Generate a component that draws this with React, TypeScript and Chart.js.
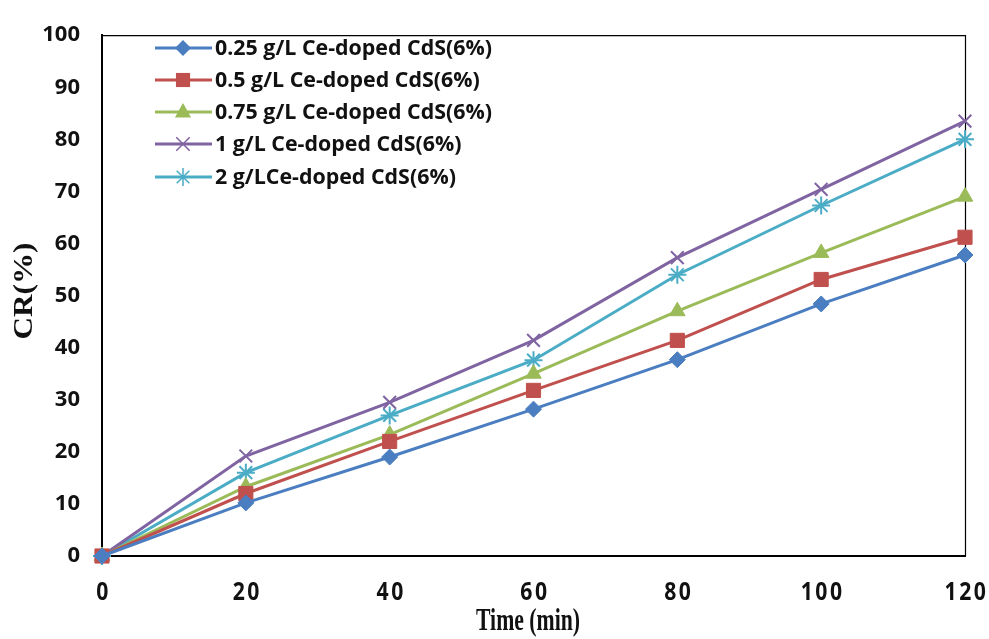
import React, { useEffect, useRef } from "react";
import { Chart, registerables } from "chart.js";

Chart.register(...registerables);

const times = [0, 20, 40, 60, 80, 100, 120];
const s025 = [0, 10.2, 19, 28.2, 37.7, 48.4, 57.8];
const s05 = [0, 12, 22, 31.8, 41.4, 53.1, 61.2];
const s075 = [0, 13.3, 23.3, 35, 47, 58.2, 69];
const s1 = [0, 19.2, 29.5, 41.4, 57.3, 70.4, 83.5];
const s2 = [0, 16, 27, 37.6, 54, 67.3, 80];

const labels = [
  "0.25 g/L Ce-doped CdS(6%)",
  "0.5 g/L Ce-doped CdS(6%)",
  "0.75 g/L Ce-doped CdS(6%)",
  "1 g/L Ce-doped CdS(6%)",
  "2 g/LCe-doped CdS(6%)",
];
const xTitle = "Time (min)";
const yTitle = "CR(%)";
const colors = ["#4A7EC0", "#C0504D", "#9BBB59", "#8064A2", "#4BACC6"];
const styles: any[] = ["rectRot", "rect", "triangle", "crossRot", "star"];
const radii = [8, 10, 9, 9, 9];

function marker(ctx: CanvasRenderingContext2D, style: string, x: number, y: number, r: number, color: string) {
  ctx.save();
  ctx.fillStyle = color;
  ctx.strokeStyle = color;
  ctx.lineWidth = 1.5;
  ctx.beginPath();
  if (style === "rectRot") {
    ctx.moveTo(x, y - r); ctx.lineTo(x + r, y); ctx.lineTo(x, y + r); ctx.lineTo(x - r, y); ctx.closePath();
    ctx.fill();
  } else if (style === "rect") {
    const s = r * Math.SQRT1_2;
    ctx.rect(x - s, y - s, 2 * s, 2 * s);
    ctx.fill();
  } else if (style === "triangle") {
    ctx.moveTo(x, y - r); ctx.lineTo(x + r * 0.9, y + r * 0.6); ctx.lineTo(x - r * 0.9, y + r * 0.6); ctx.closePath();
    ctx.fill();
  } else if (style === "crossRot") {
    const s = r * 0.75;
    ctx.moveTo(x - s, y - s); ctx.lineTo(x + s, y + s); ctx.moveTo(x + s, y - s); ctx.lineTo(x - s, y + s);
    ctx.stroke();
  } else {
    const s = r * 0.7;
    ctx.moveTo(x - s, y - s); ctx.lineTo(x + s, y + s); ctx.moveTo(x + s, y - s); ctx.lineTo(x - s, y + s);
    ctx.moveTo(x, y - r); ctx.lineTo(x, y + r);
    ctx.stroke();
  }
  ctx.restore();
}

const legendPlugin = {
  id: "insideLegend",
  afterDatasetsDraw(chart: any) {
    const ctx = chart.ctx;
    ctx.save();
    const x0 = 155;
    const ys = [48, 80, 112, 144, 177];
    chart.data.datasets.forEach((ds: any, i: number) => {
      const y = ys[i];
      ctx.strokeStyle = ds.borderColor;
      ctx.lineWidth = 3;
      ctx.beginPath();
      ctx.moveTo(x0, y);
      ctx.lineTo(x0 + 57, y);
      ctx.stroke();
      marker(ctx, styles[i], x0 + 28, y, radii[i], colors[i]);
      ctx.fillStyle = "#111";
      ctx.font = "bold 21px 'Open Sans'";
      ctx.textAlign = "left";
      ctx.textBaseline = "middle";
      const w = ctx.measureText(labels[0]).width;
      const sx = 277 / w;
      ctx.save();
      ctx.translate(215, y + 1);
      ctx.scale(sx, 1);
      ctx.fillText(ds.label, 0, 0);
      ctx.restore();
    });
    ctx.restore();
  },
};

const textPlugin = {
  id: "axisText",
  afterDraw(chart: any) {
    const ctx = chart.ctx;
    const xs = chart.scales.x;
    ctx.save();
    // x tick labels
    ctx.font = "bold 25px 'Open Sans'";
    (ctx as any).letterSpacing = "3px";
    ctx.fillStyle = "#111";
    ctx.textAlign = "center";
    ctx.textBaseline = "middle";
    const w120 = ctx.measureText("120").width;
    const sx = 44 / w120;
    xs.ticks.forEach((t: any) => {
      const px = xs.getPixelForValue(t.value);
      ctx.save();
      ctx.translate(px + 1.5, 593);
      ctx.scale(sx, 1);
      ctx.fillText(String(t.value), 0, 0);
      ctx.restore();
    });
    (ctx as any).letterSpacing = "0px";
    // x title
    ctx.font = "bold 31px 'Liberation Serif'";
    const wt = ctx.measureText(xTitle).width;
    ctx.save();
    ctx.translate(528, 622);
    ctx.scale(104 / wt, 1);
    ctx.fillText(xTitle, 0, 0);
    ctx.restore();
    // y title
    ctx.font = "bold 27px 'Liberation Serif'";
    const wy = ctx.measureText(yTitle).width;
    ctx.save();
    ctx.translate(25, 291);
    ctx.rotate(-Math.PI / 2);
    ctx.scale(97 / wy, 1);
    ctx.fillText(yTitle, 0, 0);
    ctx.restore();
    ctx.restore();
  },
};

export default function App() {
  const ref = useRef<HTMLCanvasElement>(null);
  useEffect(() => {
    document.body.style.margin = "0";
    const series = [s025, s05, s075, s1, s2];
    const chart = new Chart(ref.current!, {
      type: "line",
      data: {
        datasets: series.map((s, i) => ({
          label: labels[i],
          data: times.map((t, j) => ({ x: t, y: s[j] })),
          borderColor: colors[i],
          backgroundColor: colors[i],
          borderWidth: 3,
          pointStyle: styles[i],
          pointRadius: radii[i],
          pointBorderWidth: i >= 3 ? 2 : 1,
          pointBackgroundColor: colors[i],
          pointBorderColor: colors[i],
          tension: 0,
          clip: false as any,
        })),
      },
      options: {
        animation: false,
        responsive: false,
        layout: { padding: { top: 27, right: 24, left: 0, bottom: 0 } },
        plugins: { legend: { display: false }, tooltip: { enabled: false } },
        scales: {
          x: {
            type: "linear",
            min: 0,
            max: 120,
            afterFit: (s: any) => { s.height = 83; },
            border: { color: "#000", width: 2 },
            grid: { display: false, drawTicks: false },
            ticks: { stepSize: 20, display: false },
            title: { display: false },
          },
          y: {
            min: 0,
            max: 100,
            afterFit: (s: any) => { s.width = 102; },
            border: { color: "#000", width: 2 },
            grid: { display: false, drawTicks: false },
            ticks: {
              stepSize: 10,
              padding: 22,
              color: "#111",
              font: { family: "'Open Sans'", weight: "bold", size: 22 },
            },
            title: { display: false },
          },
        },
      },
      plugins: [
        {
          id: "frame",
          beforeDatasetsDraw(c: any) {
            const { left, right, top, bottom } = c.chartArea;
            const ctx = c.ctx;
            ctx.save();
            ctx.strokeStyle = "#000";
            ctx.lineWidth = 1.2;
            ctx.beginPath();
            ctx.moveTo(left, top + 0.5);
            ctx.lineTo(right + 0.5, top + 0.5);
            ctx.lineTo(right + 0.5, bottom);
            ctx.stroke();
            ctx.restore();
          },
        },
        legendPlugin,
        textPlugin,
      ],
    });
    return () => chart.destroy();
  }, []);
  return (
    <div style={{ position: "fixed", left: 0, top: 0, width: 989, height: 639, background: "#fff" }}>
      <canvas ref={ref} width={989} height={639} />
    </div>
  );
}
